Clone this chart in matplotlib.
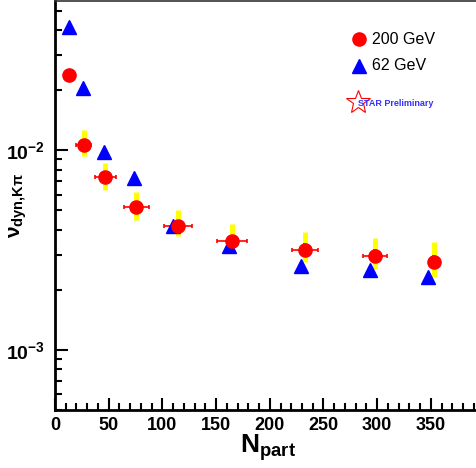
import matplotlib
matplotlib.use("Agg")
import matplotlib.pyplot as plt
from matplotlib.ticker import FuncFormatter, LogLocator, NullFormatter
import numpy as np

plt.rcParams['font.family'] = ['Liberation Sans', 'DejaVu Sans']
plt.rcParams['mathtext.fontset'] = 'custom'
plt.rcParams['mathtext.rm'] = 'Liberation Sans:bold'
plt.rcParams['mathtext.it'] = 'Liberation Sans:bold'
plt.rcParams['mathtext.bf'] = 'Liberation Sans:bold'
plt.rcParams['mathtext.default'] = 'rm'

# 200 GeV data
npart_200 = [13.0, 26.7, 46.9, 75.8, 114.9, 165.0, 232.6, 297.8, 352.8]
v_200 = [0.0239, 0.0106, 0.00732, 0.00522, 0.00418, 0.00353, 0.00318, 0.00297, 0.00276]
xerr_200 = [3, 7, 10, 12, 13, 14, 12, 11, 5]
staterr_200 = [0.0010, 0.0007, 0.0004, 0.0003, 0.0002, 0.0002, 0.0002, 0.0002, 0.0002]
sys_lo_200 = [0.0230, 0.00938, 0.00635, 0.00450, 0.00373, 0.00312, 0.00275, 0.00255, 0.00233]
sys_hi_200 = [0.0250, 0.0127, 0.00865, 0.00617, 0.00502, 0.00425, 0.00388, 0.00362, 0.00346]

# 62 GeV data
npart_62 = [13.0, 26.0, 46.0, 74.0, 110.0, 162.4, 229.0, 293.5, 347.5]
v_62 = [0.0417, 0.0205, 0.00977, 0.00724, 0.00420, 0.00333, 0.00264, 0.00250, 0.00231]

xticks = [0, 50, 100, 150, 200, 250, 300, 350]
yticks = [1e-3, 1e-2]

fig = plt.figure(figsize=(4.76, 4.68), dpi=100)
ax = fig.add_axes([55/476, 58/468, 1 - 55/476, 409/468])
ax.set_yscale('log')
ax.set_xlim(0, 392)
ax.set_ylim(5e-4, 0.056)

# systematic (yellow)
ax.vlines(npart_200, sys_lo_200, sys_hi_200, colors='#ffff00', linewidth=3.6, zorder=2)
# 200 GeV points with errors
ax.errorbar(npart_200, v_200, xerr=xerr_200, yerr=staterr_200, fmt='none',
            ecolor='red', elinewidth=1.2, capsize=1.5, capthick=1.2, zorder=3)
ax.plot(npart_62, v_62, linestyle='none', marker='^', color='blue', markersize=10, zorder=3)
ax.plot(npart_200, v_200, linestyle='none', marker='o', color='red', markersize=9.5, zorder=4)

# spines
for s in ['left', 'bottom']:
    ax.spines[s].set_linewidth(2)
ax.spines['top'].set_linewidth(1.2)
ax.spines['top'].set_color('#333333')
ax.spines['right'].set_visible(False)

ax.set_xticks(xticks)
ax.set_xticks(np.arange(0, 392, 10), minor=True)
ax.set_yticks(yticks)
ax.yaxis.set_minor_locator(LogLocator(base=10, subs=np.arange(2, 10)))
ax.yaxis.set_minor_formatter(NullFormatter())
ax.yaxis.set_major_formatter(FuncFormatter(
    lambda v, p: r'$\mathrm{10^{%d}}$' % int(round(np.log10(v)))))
ax.tick_params(axis='both', which='major', direction='in', length=9, width=1.5,
               labelsize=13, pad=5)
ax.tick_params(axis='both', which='minor', direction='in', length=5, width=1.5)
ax.tick_params(axis='y', which='major', pad=7, labelsize=14)
for lab in ax.get_xticklabels():
    lab.set_fontweight('bold')

ax.set_xlabel(r'$\mathrm{N}_{\mathrm{part}}$', fontsize=19)
ax.xaxis.set_label_coords(0.506, -0.055)
ax.set_ylabel(r'$\nu_{\mathrm{dyn{,}K}\pi}$', fontsize=15)
ax.yaxis.set_label_coords(-0.062, 0.50)

# legend-like annotation
ax.plot([(359.3-55)/421], [(468-39.3-58)/409], marker='o', color='red', markersize=9.5,
        transform=ax.transAxes, clip_on=False)
ax.text((371.5-55)/421, (468-39.3-58)/409, '200 GeV', transform=ax.transAxes,
        fontsize=11.5, va='center', ha='left', color='black')
ax.plot([(359.3-55)/421], [(468-65.7-58)/409], marker='^', color='blue', markersize=9.5,
        transform=ax.transAxes, clip_on=False)
ax.text((371.5-55)/421, (468-65.7-58)/409, '62 GeV', transform=ax.transAxes,
        fontsize=11.5, va='center', ha='left', color='black')
ax.plot([(358-55)/421], [(468-102-58)/409], marker='*', markerfacecolor='none',
        markeredgecolor='red', markersize=18, markeredgewidth=0.8,
        transform=ax.transAxes, clip_on=False)
ax.text((357.5-55)/421, (468-104-58)/409, 'STAR Preliminary', transform=ax.transAxes,
        fontsize=6.5, va='center', ha='left', color='#3333ff', fontweight='bold')

fig.savefig('out.png', dpi=100)
